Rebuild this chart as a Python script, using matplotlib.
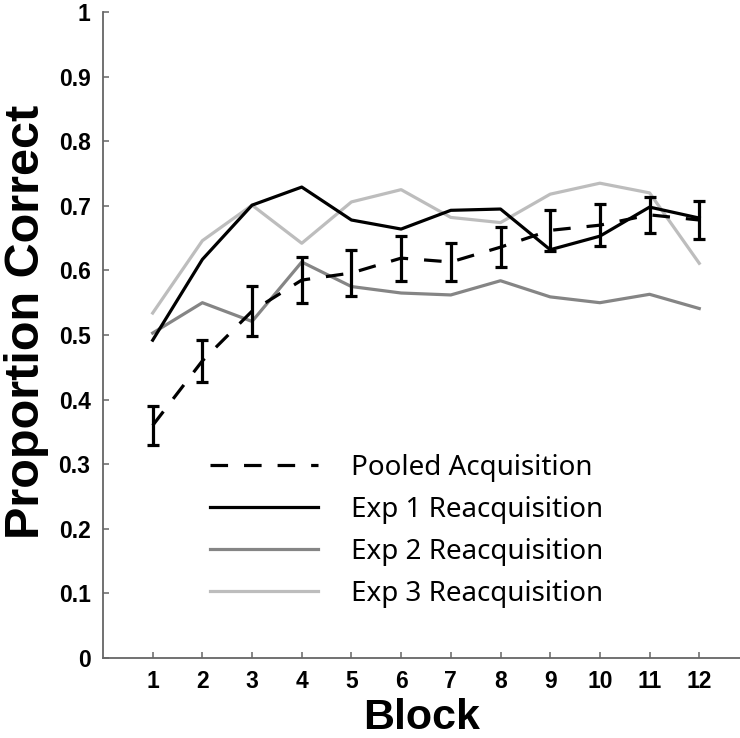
import matplotlib
matplotlib.use("Agg")
import matplotlib.pyplot as plt
from matplotlib.lines import Line2D
import numpy as np

blocks = np.arange(1, 13)
pooled = [0.360, 0.460, 0.537, 0.585, 0.596, 0.619, 0.613, 0.636, 0.662, 0.670, 0.686, 0.678]
pooled_err = [0.030, 0.032, 0.039, 0.035, 0.036, 0.035, 0.030, 0.031, 0.032, 0.033, 0.028, 0.030]
exp1 = [0.492, 0.617, 0.701, 0.729, 0.678, 0.664, 0.693, 0.695, 0.632, 0.653, 0.698, 0.681]
exp2 = [0.503, 0.550, 0.521, 0.613, 0.575, 0.565, 0.562, 0.584, 0.559, 0.550, 0.563, 0.541]
exp3 = [0.534, 0.646, 0.701, 0.642, 0.706, 0.725, 0.682, 0.674, 0.718, 0.735, 0.720, 0.611]
labels = ["Pooled Acquisition", "Exp 1 Reacquisition", "Exp 2 Reacquisition", "Exp 3 Reacquisition"]

bold = ["Liberation Sans", "DejaVu Sans"]
c2 = "#858585"
c3 = "#bdbdbd"

fig = plt.figure(figsize=(7.4, 7.38), dpi=100)
ax = fig.add_axes([103/740, 80/738, 637/740, 646/738])

# pooled acquisition with error bars
ax.errorbar(blocks, pooled, yerr=pooled_err, color="black", lw=2.3,
            dashes=(5.5, 5), elinewidth=2.3, capsize=4, capthick=2.3, zorder=3)
ax.plot(blocks, exp1, color="black", lw=2.3, zorder=4)
ax.plot(blocks, exp2, color=c2, lw=2.3, zorder=2)
ax.plot(blocks, exp3, color=c3, lw=2.3, zorder=2)

ax.set_xlim(0, 12.82)
ax.set_ylim(0, 1)
ax.set_xticks(blocks)
ax.set_yticks(np.arange(0, 1.01, 0.1))
ax.set_yticklabels(["0", "0.1", "0.2", "0.3", "0.4", "0.5", "0.6", "0.7", "0.8", "0.9", "1"])

for s in ["top", "right"]:
    ax.spines[s].set_visible(False)
for s in ["left", "bottom"]:
    ax.spines[s].set_color("#666666")
    ax.spines[s].set_linewidth(1.3)
ax.tick_params(direction="in", length=4, width=1.1, color="#666666", pad=9)
for t in ax.get_xticklabels() + ax.get_yticklabels():
    t.set_fontfamily(bold)
    t.set_fontweight("bold")
    t.set_fontsize(16.5)

ax.set_xlabel("Block", fontsize=31, fontweight="bold", family=bold, labelpad=3)
ax.set_ylabel("Proportion Correct", fontsize=35, fontweight="bold", family=bold)
ax.yaxis.set_label_coords(-0.085, 0.52)

handles = [Line2D([], [], color="black", lw=2.3, dashes=(5.5, 5)),
           Line2D([], [], color="black", lw=2.3),
           Line2D([], [], color=c2, lw=2.3),
           Line2D([], [], color=c3, lw=2.3)]
leg = ax.legend(handles, labels, loc="center", bbox_to_anchor=(0.4765, 0.197),
                frameon=False, prop={"family": ["Noto Sans", "DejaVu Sans"], "size": 20},
                handlelength=3.9, handletextpad=1.2, labelspacing=0.5)

fig.savefig("out.png", dpi=100)
